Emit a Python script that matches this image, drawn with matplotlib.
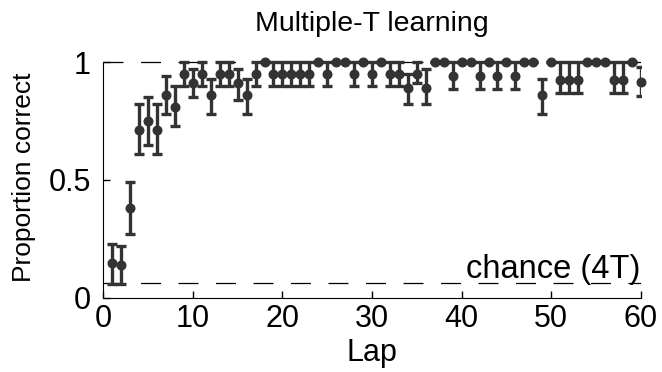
import numpy as np
import matplotlib
matplotlib.use("Agg")
from matplotlib import pyplot as plt

plt.rcParams['font.family'] = ['Liberation Sans', 'DejaVu Sans']

# proportion correct per lap, with lower / upper error limits
laps = np.arange(1, 61)
mean = [0.15, 0.14, 0.38, 0.71, 0.75, 0.71, 0.86, 0.81, 0.95, 0.91,
        0.95, 0.86, 0.95, 0.95, 0.91, 0.86, 0.95, 1.00, 0.95, 0.95,
        0.95, 0.95, 0.95, 1.00, 0.95, 1.00, 1.00, 0.95, 1.00, 0.95,
        1.00, 0.95, 0.95, 0.89, 0.95, 0.89, 1.00, 1.00, 0.94, 1.00,
        1.00, 0.94, 1.00, 0.94, 1.00, 0.94, 1.00, 1.00, 0.86, 1.00,
        0.925, 0.925, 0.925, 1.00, 1.00, 1.00, 0.925, 0.925, 1.00, 0.915]
lower = [0.06, 0.06, 0.27, 0.61, 0.65, 0.61, 0.78, 0.73, 0.90, 0.85,
         0.90, 0.78, 0.90, 0.90, 0.84, 0.78, 0.90, 1.00, 0.90, 0.90,
         0.90, 0.90, 0.90, 1.00, 0.90, 1.00, 1.00, 0.90, 1.00, 0.90,
         1.00, 0.90, 0.90, 0.82, 0.91, 0.82, 1.00, 1.00, 0.885, 1.00,
         1.00, 0.885, 1.00, 0.885, 1.00, 0.885, 1.00, 1.00, 0.78, 1.00,
         0.87, 0.87, 0.87, 1.00, 1.00, 1.00, 0.87, 0.87, 1.00, 0.855]
upper = [0.23, 0.22, 0.49, 0.82, 0.85, 0.82, 0.94, 0.90, 1.00, 0.97,
         1.00, 0.93, 1.00, 1.00, 0.97, 0.93, 1.00, 1.00, 1.00, 1.00,
         1.00, 1.00, 1.00, 1.00, 1.00, 1.00, 1.00, 1.00, 1.00, 1.00,
         1.00, 1.00, 1.00, 0.95, 1.00, 0.97, 1.00, 1.00, 1.00, 1.00,
         1.00, 1.00, 1.00, 1.00, 1.00, 1.00, 1.00, 1.00, 0.93, 1.00,
         1.00, 1.00, 1.00, 1.00, 1.00, 1.00, 1.00, 1.00, 1.00, 0.98]
chance = 1 / 16.

mean = np.array(mean)
yerr = np.vstack([mean - np.array(lower), np.array(upper) - mean])

col = '#333333'

fig = plt.figure(figsize=(6.62, 3.72), dpi=100)
ax = fig.add_axes([0.156, 0.199, 0.812, 0.647])

# dashed reference lines (ceiling and chance level)
ax.plot([0, 60], [1, 1], color='k', lw=0.9, dashes=(16, 14))
ax.plot([0, 60], [chance, chance], color='k', lw=0.9, dashes=(16, 14))

ax.errorbar(laps, mean, yerr=yerr, fmt='none', ecolor=col, elinewidth=2.4,
            capsize=3.6, capthick=2.4)
ax.plot(laps, mean, 'o', color=col, ms=6.2, clip_on=False, zorder=5)

ax.text(60, 0.085, 'chance (4T)', ha='right', va='baseline', fontsize=23.5)

ax.set_xlim(0, 60)
ax.set_ylim(0, 1.02)
ax.set_xticks([0, 10, 20, 30, 40, 50, 60])
ax.set_yticks([0, 0.5, 1])
ax.set_yticklabels(['0', '0.5', '1'])
ax.tick_params(direction='in', length=5, width=1, labelsize=22)
ax.tick_params(axis='x', pad=4)
ax.tick_params(axis='y', pad=9)
ax.spines['top'].set_visible(False)
ax.spines['right'].set_visible(False)
ax.spines['left'].set_bounds(0, 1)
ax.set_xlabel('Lap', fontsize=22, labelpad=3)
ax.set_ylabel('Proportion correct', fontsize=19, labelpad=9)
ax.set_title('Multiple-T learning', fontsize=20.5, pad=19)

plt.savefig('out.png', dpi=100)
